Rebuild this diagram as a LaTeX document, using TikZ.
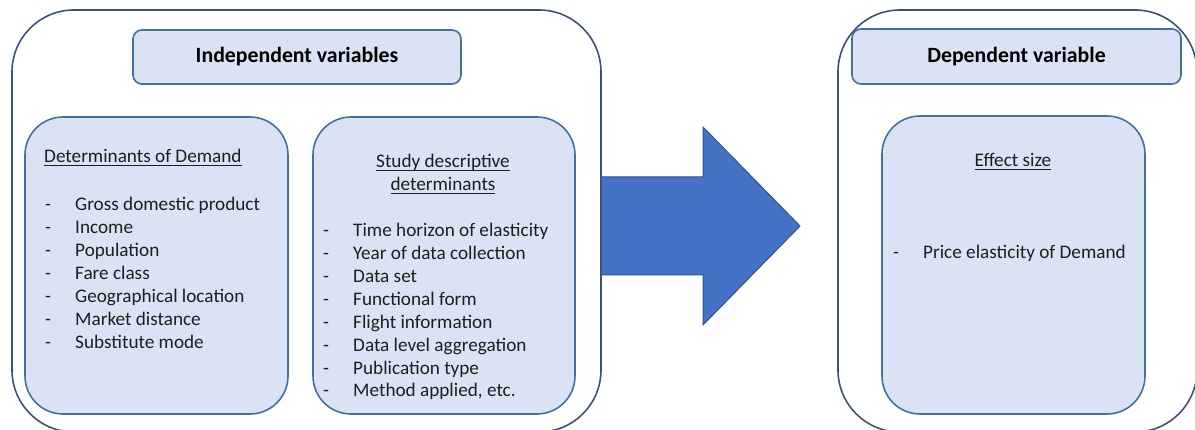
\documentclass[tikz,border=0pt]{standalone}
\usepackage{fontspec}
\setmainfont{Carlito}
\usetikzlibrary{positioning}
\definecolor{frameline}{HTML}{3A5275}
\definecolor{boxline}{HTML}{41719C}
\definecolor{boxfill}{HTML}{DAE3F3}
\definecolor{arrowfill}{HTML}{4472C4}
\definecolor{arrowline}{HTML}{2F528F}
\definecolor{textgrey}{HTML}{1E1E1E}
\tikzset{
    frame/.style={draw=frameline, line width=1.6pt, rounded corners=62pt, inner sep=0pt},
    group/.style={draw=boxline, fill=boxfill, line width=1.6pt, rounded corners=38pt, inner sep=0pt},
    heading/.style={draw=boxline, fill=boxfill, line width=1.6pt, rounded corners=9pt, inner sep=0pt, font=\fontsize{21.8}{26}\bfseries\selectfont},
    entry/.style={anchor=base west, inner sep=0pt, text=textgrey},
    caption/.style={anchor=base, inner sep=0pt, text=textgrey},
}
% underline at a fixed depth below the baseline
\newcommand{\headline}[1]{\setbox0\hbox{#1}\rlap{\rule[-3pt]{\wd0}{1pt}}\box0}
\newcommand{\itemdash}[1]{\makebox[30pt][l]{-}#1}

\begin{document}
\begin{tikzpicture}[x=1pt,y=-1pt,font=\fontsize{19.2}{23}\selectfont]
    \useasboundingbox (0,0) rectangle (1195,430);
    \clip (0,0) rectangle (1195,430);
    % block arrow
    \path[fill=arrowfill, draw=arrowline, line width=1pt]
        (601,177) -- (703,177) -- (703,127) -- (800,226) -- (703,325) -- (703,275) -- (601,275) -- cycle;
    \node[frame, minimum width=589, minimum height=422] (indep) at (306.5,221) {};
    \node[frame, minimum width=359, minimum height=422] (dep) at (1017.5,221) {};
    \node[heading, minimum width=328, minimum height=54] (indephead) at (297,57) {Independent variables};
    \node[heading, minimum width=329, minimum height=55] (dephead) at (1016.5,56.5) {Dependent variable};
    \node[group, minimum width=263, minimum height=297] (demand) at (156.5,265.5) {};
    \node[group, minimum width=262, minimum height=297] (study) at (444,265.5) {};
    \node[group, minimum width=263, minimum height=298] (effect) at (1013.5,265) {};

    % determinants of demand
    \node[entry] (demandhead) at (44,163) {\headline{Determinants of Demand}};
    \foreach \txt [count=\i] in {Gross domestic product, Income, Population, Fare class,
            Geographical location, Market distance, Substitute mode}
        \node[entry] (demand\i) at (45,{188+23*\i}) {\itemdash{\txt}};

    % study descriptive determinants
    \node[caption] (studyhead1) at (443,168) {\headline{Study descriptive}};
    \node[caption] (studyhead2) at (443,191) {\headline{determinants}};
    \foreach \txt [count=\i] in {Time horizon of elasticity, Year of data collection, Data set,
            Functional form, Flight information, Data level aggregation,
            Publication type, {Method applied, etc.}}
        \node[entry] (study\i) at (323,{214.15+22.85*\i}) {\itemdash{\txt}};

    % effect size
    \node[caption] (effecthead) at (1013,167) {\headline{Effect size}};
    \node[entry] (effect1) at (893,259) {\itemdash{Price elasticity of Demand}};
\end{tikzpicture}
\end{document}
